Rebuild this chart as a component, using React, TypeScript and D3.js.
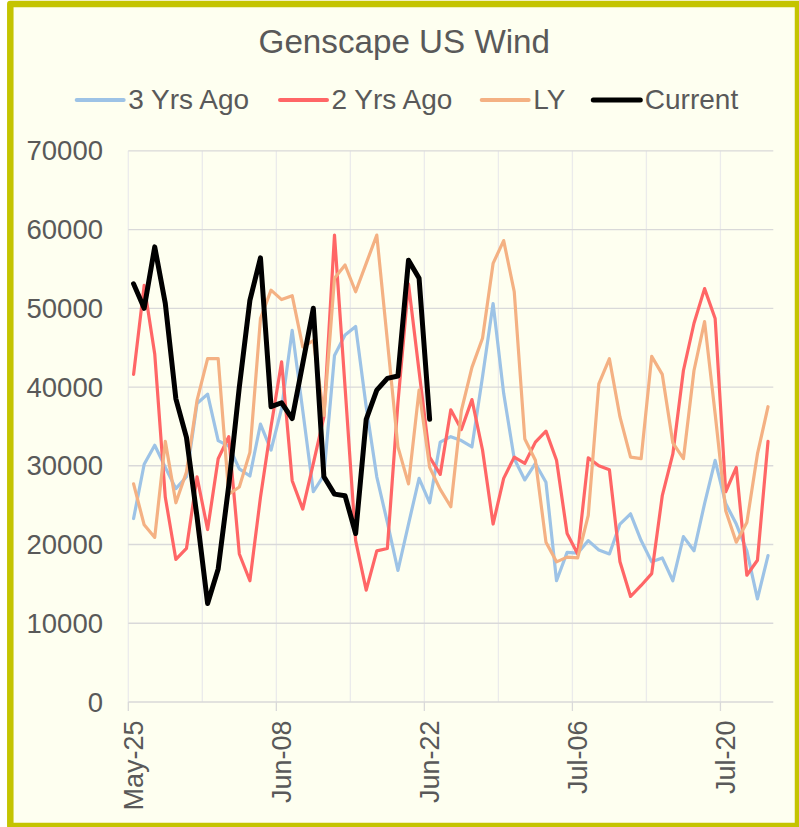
import React from "react";
import * as d3 from "d3";

// ---- data ----
const startDate = new Date(2021, 4, 25);
const endDate = new Date(2021, 6, 25);
const categories: Date[] = d3.timeDay.range(startDate, endDate); // 61 days

const tickLabels = ["May-25", "Jun-08", "Jun-22", "Jul-06", "Jul-20"];
const yTicks = [0, 10000, 20000, 30000, 40000, 50000, 60000, 70000];

const threeYrsAgo = [
  23300, 30200, 32600, 29800, 27100, 28600, 37900, 39100, 33200, 32500,
  29600, 28700, 35300, 32000, 37300, 47200, 37000, 26700, 28800, 44000,
  46600, 47700, 37500, 28600, 22800, 16700, 22600, 28400, 25300, 33000,
  33700, 33200, 32400, 41300, 50600, 39200, 30900, 28200, 30300, 27900,
  15400, 19000, 18900, 20500, 19300, 18800, 22600, 23900, 20500, 17800,
  18300, 15400, 21000, 19200, 25200, 30700, 25200, 22600, 19200, 13100,
  18600,
];

const twoYrsAgo = [
  41600, 52900, 44200, 26000, 18100, 19500, 28600, 21900, 30900, 33700,
  18800, 15400, 26000, 35000, 43200, 28100, 24500, 30300, 36200, 59300,
  40000, 20500, 14200, 19200, 19500, 38000, 53100, 42000, 31100, 28900,
  37100, 34600, 38400, 32000, 22600, 28400, 31100, 30300, 33000, 34400,
  30700, 21400, 18800, 31000, 30000, 29500, 17800, 13400, 14800, 16300,
  26200, 31500, 42100, 48100, 52500, 48700, 26700, 29800, 16100, 18000,
  33100,
];

const lastYear = [
  27700, 22500, 20900, 33100, 25300, 29200, 38300, 43600, 43600, 26400,
  27300, 31700, 48700, 52300, 51100, 51600, 45100, 45900, 36400, 53800,
  55500, 52100, 55700, 59300, 45900, 32400, 27700, 39600, 29800, 27000,
  24800, 37000, 42500, 46200, 55700, 58600, 52100, 33400, 30700, 20300,
  17800, 18400, 18300, 23700, 40400, 43600, 36200, 31100, 30900, 43900,
  41600, 32900, 30900, 42100, 48300, 36600, 24300, 20300, 22800, 31500,
  37500,
];

const current = [
  53100, 50000, 57800, 50600, 38500, 33600, 23500, 12500, 16900, 27500,
  40000, 51000, 56400, 37500, 38000, 36000, 43000, 50000, 28600, 26400,
  26200, 21400, 35900, 39600, 41100, 41400, 56100, 53800, 35900,
];

const seriesNames = ["3 Yrs Ago", "2 Yrs Ago", "LY", "Current"];
const seriesValues = [threeYrsAgo, twoYrsAgo, lastYear, current];
const seriesColors = ["#9dc3e6", "#ff6666", "#f4b183", "#000000"];
const seriesWidths = [3.2, 3.2, 3.2, 5];
const legendX = [76.7, 280, 481.7, 593.3];

const W = 799;
const H = 827;
const FONT = "'Liberation Sans', Arial, sans-serif";
const TEXT = "#595959";

export default function App() {
  const x = d3
    .scaleBand<number>()
    .domain(d3.range(categories.length))
    .range([128.3, 773.3])
    .paddingInner(0)
    .paddingOuter(0);
  const y = d3.scaleLinear().domain([0, 70000]).range([702, 150.8]);
  const cx = (i: number) => (x(i) as number) + x.bandwidth() / 2;
  const fmt = d3.timeFormat("%b-%d");

  const line = d3
    .line<number>()
    .x((_, i) => cx(i))
    .y((d) => y(d));

  const weekIdx = d3.range(0, categories.length, 7);
  const tickIdx = categories
    .map((d, i) => ({ label: fmt(d), i }))
    .filter((o) => tickLabels.includes(o.label));

  return (
    <svg
      width={W}
      height={H}
      style={{ position: "absolute", left: 0, top: 0, display: "block" }}
      fontFamily={FONT}
    >
      <rect x={0} y={0} width={W} height={H} fill="#ffffff" />
      <rect
        x={10.3}
        y={4}
        width={787.7}
        height={822}
        fill="#fefff0"
        stroke="#c4c400"
        strokeWidth={6.5}
        strokeLinejoin="round"
      />

      {/* vertical gridlines */}
      {weekIdx.map((i) => (
        <line
          key={"vg" + i}
          x1={x(i)}
          x2={x(i)}
          y1={y(70000)}
          y2={y(0)}
          stroke="#ebebeb"
          strokeWidth={1.3}
        />
      ))}
      {/* horizontal gridlines */}
      {yTicks.map((t) => (
        <line
          key={"hg" + t}
          x1={128.3}
          x2={773.3}
          y1={y(t)}
          y2={y(t)}
          stroke="#d9d9d9"
          strokeWidth={1.3}
        />
      ))}
      {/* x tick marks */}
      {tickIdx.map((o) => (
        <line
          key={"tk" + o.i}
          x1={x(o.i)}
          x2={x(o.i)}
          y1={y(0)}
          y2={y(0) + 9}
          stroke="#d9d9d9"
          strokeWidth={1.3}
        />
      ))}
      {/* y labels */}
      {yTicks.map((t) => (
        <text
          key={"yl" + t}
          x={103}
          y={y(t)}
          dy="0.35em"
          textAnchor="end"
          fontSize={27.5}
          fill={TEXT}
        >
          {t}
        </text>
      ))}
      {/* x labels */}
      {tickIdx.map((o) => (
        <text
          key={"xl" + o.i}
          transform={`translate(${cx(o.i)},720.5) rotate(-90)`}
          dy="0.35em"
          textAnchor="end"
          fontSize={27}
          fill={TEXT}
        >
          {o.label}
        </text>
      ))}

      {/* series */}
      {seriesValues.map((vals, k) => (
        <path
          key={"s" + k}
          d={line(vals) || ""}
          fill="none"
          stroke={seriesColors[k]}
          strokeWidth={seriesWidths[k]}
          strokeLinejoin="round"
          strokeLinecap="round"
        />
      ))}

      {/* title */}
      <text
        x={404.3}
        y={53}
        textAnchor="middle"
        fontSize={33.2}
        fill={TEXT}
      >
        Genscape US Wind
      </text>

      {/* legend */}
      {seriesNames.map((n, k) => (
        <g key={"lg" + k}>
          <line
            x1={legendX[k]}
            x2={legendX[k] + 47}
            y1={100}
            y2={100}
            stroke={seriesColors[k]}
            strokeWidth={k === 3 ? 5 : 4}
            strokeLinecap="round"
          />
          <text x={legendX[k] + 51.5} y={109.3} fontSize={28} fill={TEXT}>
            {n}
          </text>
        </g>
      ))}
    </svg>
  );
}
